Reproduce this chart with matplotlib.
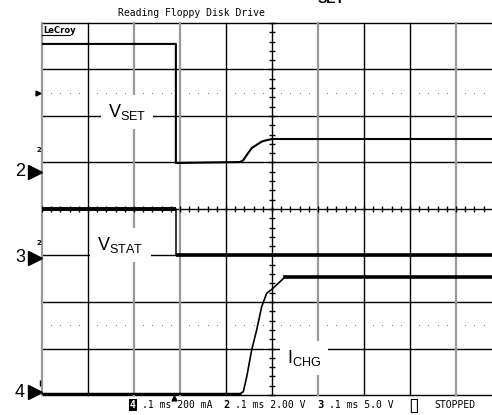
import numpy as np
import matplotlib.pyplot as plt
from matplotlib.lines import Line2D

plt.rcParams["mathtext.fontset"] = "custom"
plt.rcParams["mathtext.rm"] = "Liberation Sans"
plt.rcParams["mathtext.it"] = "Liberation Sans"
plt.rcParams["mathtext.bf"] = "Liberation Sans:bold"

# time in ms (0.1 ms/div, trigger at centre), levels in screen divisions
vset_t = [-0.5, -0.209, -0.209, -0.0696, -0.0624, -0.055, -0.0441, -0.0333,
          -0.0224, -0.0115, 0.0, 0.5]
vset_y = [3.55, 3.55, 0.99, 1.01, 1.05, 1.16, 1.31, 1.38, 1.45, 1.48, 1.505, 1.505]

vstat_t = [-0.5, -0.209, -0.209, 0.5]
vstat_y = [0.0, 0.0, -0.99, -0.99]

ichg_t = [-0.5, -0.0696, -0.0624, -0.055, -0.0441, -0.0333, -0.0224, -0.0115,
          -0.0007, 0.0102, 0.0211, 0.0283, 0.5]
ichg_y = [-3.97, -3.97, -3.93, -3.61, -3.03, -2.60, -2.10, -1.81, -1.73,
          -1.63, -1.53, -1.46, -1.46]

# channel ground markers: label, level (div)
ch_labels = ["2", "3", "4"]
ch_levels = [0.80, -1.05, -3.94]

title = "Reading Floppy Disk Drive"
# footer pieces: (character column, text, bold)
footer = [(2, ".1 ms 200 mA", False), (16, "2", True), (18, ".1 ms 2.00 V", False),
          (32, "3", True), (34, ".1 ms 5.0 V", False), (52, "STOPPED", False)]

W, H = 492, 415
fig = plt.figure(figsize=(W / 100, H / 100), dpi=100)
ax = fig.add_axes([42 / W, 20 / H, 460 / W, 372 / H])
ax.set_xlim(-0.5, 0.5)
ax.set_ylim(-4, 4)
ax.axis("off")

# graticule
for y in range(-4, 5):
    ax.axhline(y, color="black", lw=1, clip_on=False, zorder=1)
gray_cols = [0, 2, 3, 6, 9]
for k in range(11):
    t = -0.5 + 0.1 * k
    if k in gray_cols:
        ax.axvline(t, color="#9a9a9a", lw=1.6, clip_on=False, zorder=1)
    else:
        ax.axvline(t, color="black", lw=1, clip_on=False, zorder=1)

# centre axis ticks
yt = np.arange(-20, 21) * 0.2
ax.plot(np.zeros_like(yt), yt, ls="none", marker="_", ms=5, mew=1,
        color="black", zorder=2, clip_on=False)
xt = np.arange(-25, 26) * 0.02
ax.plot(xt, np.zeros_like(xt), ls="none", marker="|", ms=5, mew=1,
        color="black", zorder=2)

# dotted lines
dots = np.array([i * 0.02 - 0.5 for i in range(50) if i % 5 != 0])
for yd in [2.5, -2.5]:
    ax.plot(dots, np.full_like(dots, yd), ls="none", marker="s", ms=0.7,
            mew=0, color="#7a7a7a", zorder=2)

# traces (edges thin, settled levels heavier)
ax.plot(vset_t, vset_y, color="black", lw=1.5, zorder=5)
ax.plot(vstat_t, vstat_y, color="black", lw=1.1, zorder=5)
ax.plot(vstat_t[:2], vstat_y[:2], color="black", lw=2.8, zorder=5,
        solid_capstyle="butt")
ax.plot(vstat_t[2:], vstat_y[2:], color="black", lw=2.6, zorder=5,
        solid_capstyle="butt")
ax.plot(ichg_t, ichg_y, color="black", lw=1.2, zorder=5)
ax.plot(ichg_t[:2], ichg_y[:2], color="black", lw=1.8, zorder=5)
ax.plot(ichg_t[-2:], ichg_y[-2:], color="black", lw=2.6, zorder=5)

# trace labels
box = dict(boxstyle="square,pad=0.4", facecolor="white", edgecolor="none")
ax.text(-0.357, 1.98, r"V$_{\mathrm{SET}}$", fontsize=13, ha="left",
        va="baseline", family="Liberation Sans", bbox=box, zorder=3)
ax.text(-0.380, -0.88, r"V$_{\mathrm{STAT}}$", fontsize=13, ha="left",
        va="baseline", family="Liberation Sans", bbox=box, zorder=3)
ax.text(0.0326, -3.31, r"I$_{\mathrm{CHG}}$", fontsize=13, ha="left",
        va="baseline", family="Liberation Sans", bbox=box, zorder=3)

# channel markers on the left
for lab, lev in zip(ch_labels, ch_levels):
    ax.plot([-0.515], [lev], marker=">", ms=10, color="black", clip_on=False)
    ax.text(-0.548, lev, lab, fontsize=13, family="Liberation Sans",
            ha="center", va="center", clip_on=False)
ax.text(-0.5065, 1.27, "2", fontsize=5, fontweight="bold", ha="center",
        va="center")
ax.text(-0.5065, -0.73, "2", fontsize=5, fontweight="bold", ha="center",
        va="center")
ax.plot([-0.508], [2.49], marker=">", ms=3.5, color="black", clip_on=False)
ax.plot([-0.505], [-3.75], marker="|", ms=4, color="black", clip_on=False)
ax.plot([-0.213], [-4.07], marker="^", ms=3.5, color="black", clip_on=False)

# header text
fig.text(118 / W, 1 - 12.5 / H, title, family="DejaVu Sans Mono", fontsize=7,
         va="center", ha="left")
fig.text(318 / W, 1 - 3 / H, "SET", family="Liberation Sans", fontsize=10,
         fontweight="bold", va="baseline", ha="left")
fig.text(43 / W, 1 - 30.5 / H, "LeCroy", family="DejaVu Sans", fontsize=6,
         fontweight="bold", va="center", ha="left")
fig.add_artist(Line2D([42 / W, 70 / W], [1 - 35 / H, 1 - 35 / H],
                      color="black", lw=0.8))

# footer text
x0, cw, yb = 130, 5.853, 1 - 405 / H
fig.text(x0 / W, yb, "4", family="DejaVu Sans Mono", fontsize=7,
         fontweight="bold", color="white", va="center", ha="left",
         bbox=dict(boxstyle="square,pad=0.1", facecolor="black",
                   edgecolor="none"))
for col, s, bold in footer:
    fig.text((x0 + col * cw) / W, yb, s, family="DejaVu Sans Mono",
             fontsize=7.5 if bold else 7,
             fontweight="bold" if bold else "normal", va="center", ha="left")
fig.text((x0 + 47.6 * cw) / W, yb, "\u25af", family="DejaVu Sans", fontsize=14,
         va="center", ha="left")

fig.savefig("out.png", dpi=100)
